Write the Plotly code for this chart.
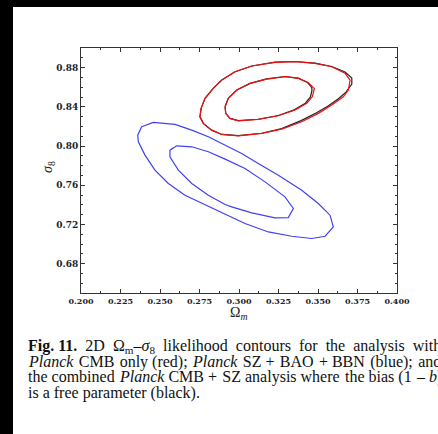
import plotly.graph_objects as go

# ---------------- data ----------------
# Planck CMB only (red): outer and inner contours (Omega_m, sigma_8)
red_outer_om = [0.2760, 0.2785, 0.2837, 0.2891, 0.2975, 0.3081, 0.3228, 0.3355, 0.3481, 0.3587,
                0.3671, 0.3703, 0.3692, 0.3660, 0.3587, 0.3502, 0.3397, 0.3270, 0.3144, 0.2996,
                0.2891, 0.2827, 0.2774, 0.2753, 0.2760]
red_outer_s8 = [0.8384, 0.8486, 0.8588, 0.8673, 0.8758, 0.8816, 0.8854, 0.8860, 0.8844, 0.8809,
                0.8742, 0.8673, 0.8571, 0.8502, 0.8418, 0.8333, 0.8247, 0.8172, 0.8128, 0.8104,
                0.8118, 0.8162, 0.8231, 0.8298, 0.8384]
red_inner_om = [0.2912, 0.2932, 0.2986, 0.3070, 0.3175, 0.3291, 0.3376, 0.3439, 0.3471, 0.3477,
                0.3464, 0.3429, 0.3355, 0.3249, 0.3122, 0.2996, 0.2943, 0.2916, 0.2912]
red_inner_s8 = [0.8400, 0.8486, 0.8571, 0.8639, 0.8683, 0.8707, 0.8690, 0.8646, 0.8595, 0.8588,
                0.8502, 0.8435, 0.8367, 0.8309, 0.8271, 0.8257, 0.8282, 0.8333, 0.8400]

# Planck CMB + SZ with free bias (black)
black_outer_om = [0.2760, 0.2785, 0.2837, 0.2891, 0.2975, 0.3081, 0.3228, 0.3355, 0.3481, 0.3587,
                  0.3671, 0.3714, 0.3714, 0.3677, 0.3627, 0.3564, 0.3488, 0.3393, 0.3270, 0.3144,
                  0.2996, 0.2891, 0.2827, 0.2774, 0.2753, 0.2760]
black_outer_s8 = [0.8384, 0.8486, 0.8588, 0.8673, 0.8758, 0.8816, 0.8856, 0.8862, 0.8846, 0.8811,
                  0.8755, 0.8693, 0.8632, 0.8550, 0.8479, 0.8407, 0.8336, 0.8259, 0.8178, 0.8130,
                  0.8106, 0.8118, 0.8162, 0.8231, 0.8298, 0.8384]
black_inner_om = [0.2912, 0.2932, 0.2986, 0.3070, 0.3175, 0.3291, 0.3376, 0.3434, 0.3460, 0.3462,
                  0.3452, 0.3420, 0.3350, 0.3249, 0.3122, 0.2996, 0.2943, 0.2916, 0.2912]
black_inner_s8 = [0.8400, 0.8486, 0.8571, 0.8639, 0.8685, 0.8709, 0.8692, 0.8648, 0.8597, 0.8570,
                  0.8500, 0.8437, 0.8369, 0.8311, 0.8273, 0.8259, 0.8282, 0.8333, 0.8400]

# Planck SZ + BAO + BBN (blue)
blue_outer_om = [0.2384, 0.2458, 0.2595, 0.2701, 0.2806, 0.2912, 0.3017, 0.3122, 0.3249, 0.3397,
                 0.3502, 0.3576, 0.3597, 0.3545, 0.3460, 0.3334, 0.3186, 0.3038, 0.2912, 0.2785,
                 0.2658, 0.2553, 0.2468, 0.2405, 0.2363, 0.2359, 0.2384]
blue_outer_s8 = [0.8196, 0.8241, 0.8220, 0.8162, 0.8094, 0.8009, 0.7924, 0.7822, 0.7702, 0.7549,
                 0.7413, 0.7294, 0.7174, 0.7079, 0.7056, 0.7079, 0.7123, 0.7209, 0.7304, 0.7396,
                 0.7498, 0.7618, 0.7754, 0.7907, 0.8043, 0.8111, 0.8196]
blue_inner_om = [0.2563, 0.2606, 0.2701, 0.2806, 0.2912, 0.3038, 0.3165, 0.3291, 0.3344, 0.3312,
                 0.3228, 0.3081, 0.2954, 0.2912, 0.2806, 0.2701, 0.2616, 0.2563, 0.2563]
blue_inner_s8 = [0.7958, 0.8002, 0.7992, 0.7941, 0.7866, 0.7771, 0.7634, 0.7481, 0.7362, 0.7270,
                 0.7266, 0.7317, 0.7379, 0.7403, 0.7498, 0.7618, 0.7754, 0.7889, 0.7958]

x_ticks = [0.200, 0.225, 0.250, 0.275, 0.300, 0.325, 0.350, 0.375, 0.400]
x_ticklabels = ["0.200", "0.225", "0.250", "0.275", "0.300", "0.325", "0.350", "0.375", "0.400"]
y_ticks = [0.68, 0.72, 0.76, 0.80, 0.84, 0.88]
y_ticklabels = ["0.68", "0.72", "0.76", "0.80", "0.84", "0.88"]

# caption, word by word (justified lines get slightly wider gaps)
caption_words = [
    ["<b>Fig. 11.</b>", "2D", "Ω<sub>m</sub>–<i>σ</i><sub>8</sub>", "likelihood", "contours",
     "for", "the", "analysis", "with"],
    ["<i>Planck</i>", "CMB", "only", "(red);", "<i>Planck</i>", "SZ", "+", "BAO", "+", "BBN",
     "(blue);", "and"],
    ["the", "combined", "<i>Planck</i>", "CMB", "+", "SZ", "analysis", "where", "the", "bias",
     "(1", "–", "<i>b</i>)"],
    ["is", "a", "free", "parameter", "(black)."],
]
# number of extra hair-space units in each gap, per line
caption_extra = [
    None,
    [1, 1, 0, 1, 1, 0, 1, 1, 0, 1, 1],
    [0, 1, 0, 0, 1, 0, 0, 1, 0, 0, 1, 0],
    None,
]

# ---------------- figure ----------------
W, H = 438, 434
L, R, T, B = 81, 41, 48, 141
pw, ph = W - L - R, H - T - B

def px2fx(px):
    return (px - L) / pw

def py2fy(py):
    return (H - B - py) / ph

def join_words(words, extra, wide=False):
    if extra is None:
        sep = " \u00a0" if wide else " "
        return sep.join(words)
    out = words[0]
    for w, e in zip(words[1:], extra):
        out += " " + "\u200a" * e + w
    return out

fig = go.Figure()
line_w = 1.2
for xs, ys, col in [
    (blue_outer_om, blue_outer_s8, "#4040f5"),
    (blue_inner_om, blue_inner_s8, "#4040f5"),
    (black_outer_om, black_outer_s8, "#222222"),
    (black_inner_om, black_inner_s8, "#222222"),
    (red_outer_om, red_outer_s8, "#ee1111"),
    (red_inner_om, red_inner_s8, "#ee1111"),
]:
    fig.add_trace(go.Scatter(x=xs, y=ys, mode="lines",
                             line=dict(color=col, width=line_w),
                             showlegend=False, hoverinfo="skip"))

fig.update_xaxes(range=[0.2, 0.4], tickvals=x_ticks, ticktext=x_ticklabels,
                 ticks="inside", ticklen=4, tickwidth=1, tickcolor="#333",
                 minor=dict(dtick=0.0125, tick0=0.2, ticks="inside", ticklen=2, tickcolor="#333"),
                 showline=True, linecolor="#333", linewidth=1, mirror="allticks",
                 showgrid=False, zeroline=False,
                 tickfont=dict(family="DejaVu Serif", size=8, color="#222", weight="bold"))
fig.update_yaxes(range=[0.65, 0.90], tickvals=y_ticks, ticktext=y_ticklabels,
                 ticks="inside", ticklen=4, tickwidth=1, tickcolor="#333",
                 minor=dict(dtick=0.01, tick0=0.65, ticks="inside", ticklen=2, tickcolor="#333"),
                 showline=True, linecolor="#333", linewidth=1, mirror="allticks",
                 showgrid=False, zeroline=False,
                 tickfont=dict(family="DejaVu Serif", size=9, color="#222", weight="bold"))

annotations = [
    dict(text="Ω<sub><i>m</i></sub>", x=px2fx(238), y=py2fy(313), xref="paper", yref="paper",
         showarrow=False, xanchor="center", yanchor="middle",
         font=dict(family="Liberation Serif", size=14, color="#222")),
    dict(text="<i>σ</i><sub>8</sub>", x=px2fx(48), y=py2fy(167), xref="paper", yref="paper",
         showarrow=False, xanchor="center", yanchor="middle", textangle=-90,
         font=dict(family="Liberation Serif", size=14, color="#222")),
]
line_y = [346, 361.7, 377.4, 393]
for i, (words, extra, yy) in enumerate(zip(caption_words, caption_extra, line_y)):
    annotations.append(dict(text=join_words(words, extra, wide=(i == 0)), x=px2fx(26), y=py2fy(yy),
                            xref="paper", yref="paper",
                            showarrow=False, xanchor="left", yanchor="middle", align="left",
                            font=dict(family="Liberation Serif", size=16, color="#111")))

shapes = [
    dict(type="rect", xref="paper", yref="paper", x0=px2fx(0), x1=px2fx(13), y0=py2fy(0), y1=py2fy(H),
         fillcolor="black", line=dict(width=0), layer="below"),
    dict(type="rect", xref="paper", yref="paper", x0=px2fx(0), x1=px2fx(W), y0=py2fy(0), y1=py2fy(7),
         fillcolor="black", line=dict(width=0), layer="below"),
]

fig.update_layout(width=W, height=H, margin=dict(l=L, r=R, t=T, b=B, autoexpand=False),
                  paper_bgcolor="white", plot_bgcolor="white",
                  annotations=annotations, shapes=shapes)

fig.write_html("out.html")
